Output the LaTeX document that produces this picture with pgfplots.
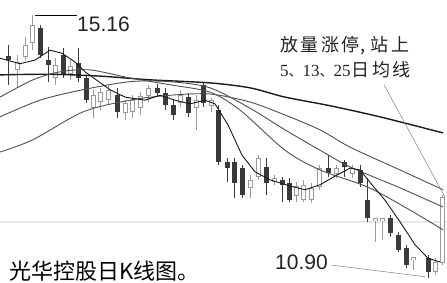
\documentclass[border=0pt]{standalone}
\usepackage{pgfplots}
\pgfplotsset{compat=1.18}
\usepackage{pgfplotstable}
\usepackage{fontspec}
\setmainfont{Liberation Sans}
\newfontfamily\cjk{Noto Sans CJK SC}
\newfontfamily\serifnum{Liberation Serif}
\definecolor{dn}{HTML}{3A3A3A}
\definecolor{up}{HTML}{9A9A9A}
\definecolor{maA}{HTML}{1A1A1A}
\definecolor{maB}{HTML}{505050}
\definecolor{txt}{HTML}{222222}

\pgfplotstableread{
x o h l c
8 14.50 14.67 14.03 14.43
40 14.95 15.00 14.46 14.51
48 14.43 14.64 14.08 14.35
63 14.51 14.63 14.14 14.19
78 14.38 14.63 14.08 14.14
86 14.14 14.19 13.74 13.78
117 13.86 13.98 13.49 13.59
157 13.98 14.04 13.85 13.90
165 13.90 13.98 13.62 13.70
173 13.70 13.78 13.46 13.54
188 13.83 13.90 13.51 13.57
203 14.03 14.06 13.67 13.74
218 13.62 13.70 12.73 12.78
227 12.78 12.84 12.46 12.68
234 12.78 12.84 12.20 12.44
242 12.68 12.73 12.20 12.25
266 12.70 12.84 12.25 12.44
282 12.49 12.54 12.13 12.41
289 12.44 12.52 12.13 12.16
328 12.68 12.89 12.54 12.60
344 12.78 12.81 12.54 12.70
360 12.65 12.73 12.37 12.44
367 12.16 12.52 11.81 11.87
390 11.87 11.92 11.56 11.63
398 11.60 11.65 11.32 11.35
406 11.39 11.44 11.06 11.11
428 11.22 11.27 10.90 11.00
}\down

\pgfplotstableread{
x o h l c
17 14.27 14.51 13.98 14.40
25 14.48 14.80 14.43 14.67
32 14.71 15.16 14.59 15.00
55 14.14 14.46 14.03 14.35
70 14.20 14.43 14.11 14.33
93 13.65 13.95 13.49 13.86
100 13.75 13.98 13.62 13.91
108 13.78 14.03 13.70 13.95
125 13.57 13.78 13.46 13.74
132 13.59 13.86 13.49 13.78
140 13.65 13.91 13.54 13.85
148 13.85 14.03 13.75 13.98
180 13.74 13.95 13.67 13.86
196 13.65 13.86 13.30 13.78
211 13.69 13.82 13.59 13.78
250 12.36 12.57 12.20 12.49
258 12.54 12.89 12.49 12.84
274 12.46 12.57 12.41 12.52
296 12.23 12.46 12.13 12.39
303 12.16 12.49 12.13 12.41
311 12.16 12.44 12.12 12.36
319 12.37 12.73 12.33 12.68
336 12.58 12.73 12.52 12.68
352 12.58 12.73 12.52 12.68
375 11.82 11.87 11.48 11.87
382 11.82 11.87 11.52 11.87
413 11.19 11.24 11.03 11.24
435 11.00 11.22 10.95 11.16
442 11.14 12.25 11.11 12.21
}\up

\begin{document}
\begin{tikzpicture}
\path[use as bounding box] (0,0) rectangle (447pt,283pt);
\begin{axis}[at={(0,0)}, anchor=south west, scale only axis,
  width=447pt, height=283pt, xmin=0, xmax=447, ymin=10.819, ymax=15.403,
  axis lines=none, clip=false]

% faint scan band
\draw[gray!18, line width=1.5pt] (axis cs:0,11.81) -- (axis cs:447,11.81);

% up candles (hollow)
\addplot[draw=none, mark=none, forget plot, error bars/.cd, y dir=both, y explicit, error mark=none,
  error bar style={draw=up, line width=0.9pt}]
  table[x=x, y expr={(\thisrow{h}+\thisrow{l})/2}, y error expr={(\thisrow{h}-\thisrow{l})/2}] {\up};
\addplot[draw=none, mark=none, forget plot, error bars/.cd, y dir=both, y explicit, error mark=none,
  error bar style={draw=up, line width=5pt}]
  table[x=x, y expr={(\thisrow{o}+\thisrow{c})/2}, y error expr={abs(\thisrow{c}-\thisrow{o})/2}] {\up};
\addplot[draw=none, mark=none, forget plot, error bars/.cd, y dir=both, y explicit, error mark=none,
  error bar style={draw=white, line width=3pt}]
  table[x=x, y expr={(\thisrow{o}+\thisrow{c})/2}, y error expr={abs(\thisrow{c}-\thisrow{o})/2-0.016}] {\up};

% down candles (filled)
\addplot[draw=none, mark=none, forget plot, error bars/.cd, y dir=both, y explicit, error mark=none,
  error bar style={draw=dn, line width=1pt}]
  table[x=x, y expr={(\thisrow{h}+\thisrow{l})/2}, y error expr={(\thisrow{h}-\thisrow{l})/2}] {\down};
\addplot[draw=none, mark=none, forget plot, error bars/.cd, y dir=both, y explicit, error mark=none,
  error bar style={draw=dn, line width=5pt}]
  table[x=x, y expr={(\thisrow{o}+\thisrow{c})/2}, y error expr={abs(\thisrow{c}-\thisrow{o})/2}] {\down};

% moving averages
\addplot[maA, line width=1.4pt, smooth, mark=none] coordinates {
(0,14.19) (50,14.20) (100,14.17) (150,14.11) (210,14.06) (250,13.98) (285,13.83) (330,13.69) (380,13.51) (443,13.25)};
\addplot[maB, line width=0.9pt, smooth, mark=none] coordinates {
(0,12.94) (33,13.14) (83,13.59) (130,13.78) (170,13.86) (210,13.88) (250,13.75) (285,13.54) (320,13.30) (350,13.02) (400,12.65) (443,12.33)};
\addplot[maB, line width=0.9pt, smooth, mark=none] coordinates {
(0,13.51) (40,13.78) (83,13.95) (130,14.08) (170,14.08) (210,13.98) (250,13.65) (285,13.30) (320,12.97) (350,12.70) (400,12.36) (443,12.05)};
\addplot[maB, line width=0.9pt, smooth, mark=none] coordinates {
(0,13.83) (33,14.11) (60,14.24) (90,14.27) (130,14.14) (170,14.03) (210,13.91) (240,13.62) (285,12.97) (320,12.65) (368,12.37) (410,12.00) (443,11.68)};
\addplot[maA, line width=0.9pt, mark=none] coordinates {
(0,14.46) (20,14.37) (35,14.43) (50,14.59) (62,14.54) (75,14.40) (85,14.24) (110,13.95) (125,13.83) (145,13.78) (160,13.86) (175,13.78) (190,13.72) (205,13.78) (215,13.72) (228,13.38) (242,12.89) (255,12.62) (270,12.49) (290,12.39) (305,12.33) (320,12.41) (335,12.55) (350,12.68) (360,12.65) (372,12.41) (385,12.16) (400,11.81) (415,11.44) (428,11.22) (440,11.16)};

% annotations
\draw[black, line width=0.8pt] (axis cs:35,15.16) -- (axis cs:77,15.16);
\node[anchor=west, inner sep=0pt, font=\fontsize{21}{21}\selectfont, text=txt] at (axis cs:77,15.01) {15.16};
\node[anchor=west, inner sep=0pt, font=\fontsize{21}{21}\selectfont, text=txt] at (axis cs:275,11.16) {10.90};
\draw[gray, line width=0.5pt] (axis cs:331,11.11) -- (axis cs:425,10.92);
\draw[gray, line width=0.5pt] (axis cs:384,14.03) -- (axis cs:445,12.21);
\node[anchor=west, inner sep=0pt, text=txt, font=\cjk\fontsize{18}{18}\selectfont] at (axis cs:280,14.67)
  {放\hspace{2.5pt}量\hspace{2.5pt}涨\hspace{2.5pt}停\hspace{1pt},\hspace{5pt}站\hspace{2.5pt}上};
\node[anchor=west, inner sep=0pt, text=txt, font=\serifnum\fontsize{17}{17}\selectfont] at (axis cs:280,14.27)
  {5{\cjk\fontsize{14}{14}\selectfont 、}13{\cjk\fontsize{14}{14}\selectfont 、}25{\cjk\fontsize{18}{18}\selectfont\hspace{1pt}日\hspace{2.5pt}均\hspace{2.5pt}线}};
\node[anchor=base west, inner sep=0pt, text=black, font=\cjk\fontsize{22}{22}\selectfont] at (axis cs:9,10.875)
  {光华控股日K线图。};
\end{axis}
\end{tikzpicture}
\end{document}
